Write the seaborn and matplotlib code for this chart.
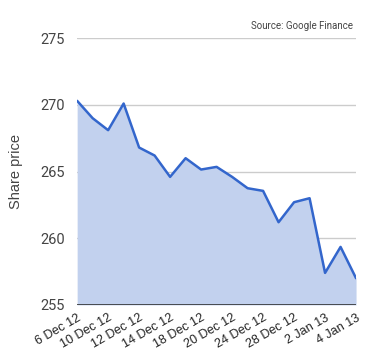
import matplotlib
matplotlib.use("Agg")
import matplotlib.pyplot as plt
import matplotlib.transforms as mtransforms
import seaborn as sns
import pandas as pd

dates = ["6 Dec 12", "7 Dec 12", "10 Dec 12", "11 Dec 12", "12 Dec 12", "13 Dec 12",
         "14 Dec 12", "17 Dec 12", "18 Dec 12", "19 Dec 12", "20 Dec 12", "21 Dec 12",
         "24 Dec 12", "26 Dec 12", "28 Dec 12", "31 Dec 12", "2 Jan 13", "3 Jan 13", "4 Jan 13"]
prices = [270.3, 269.0, 268.1, 270.1, 266.8, 266.2, 264.6, 266.0, 265.15, 265.35,
          264.6, 263.75, 263.55, 261.2, 262.7, 263.0, 257.4, 259.35, 257.0]
tick_labels = ["6 Dec 12", "10 Dec 12", "12 Dec 12", "14 Dec 12", "18 Dec 12",
               "20 Dec 12", "24 Dec 12", "28 Dec 12", "2 Jan 13", "4 Jan 13"]
y_ticks = [255, 260, 265, 270, 275]

df = pd.DataFrame({"date": dates, "price": prices, "pos": range(len(dates))})

sns.set_theme(style="white")
plt.rcParams['font.family'] = ['Roboto', 'DejaVu Sans']

fig = plt.figure(figsize=(3.8, 3.6), dpi=100)
ax = fig.add_axes([0.203, 0.153, 0.734, 0.741])

for t in y_ticks[1:]:
    ax.axhline(t, color="#cccccc", lw=1, zorder=0)

ax.fill_between(df["pos"], df["price"], 255, color="#c2d1ee", lw=0, zorder=1)
sns.lineplot(data=df, x="pos", y="price", ax=ax, color="#3366cc", lw=1.8, zorder=3)
ax.axhline(255, color="#333333", lw=1.2, zorder=4)

ax.set_xlim(0, len(dates) - 1)
ax.set_ylim(255, 275)
ax.set_yticks(y_ticks)
ax.set_yticklabels([str(t) for t in y_ticks], fontsize=10.5, color="#444444")
tick_pos = [dates.index(l) for l in tick_labels]
ax.set_xticks(tick_pos)
ax.set_xticklabels(tick_labels, rotation=30, ha="right", rotation_mode="anchor",
                   fontsize=9, color="#222222", family=["Liberation Sans", "DejaVu Sans"])
offset = mtransforms.ScaledTranslation(4 / 72, 0, fig.dpi_scale_trans)
for lbl in ax.get_xticklabels():
    lbl.set_transform(lbl.get_transform() + offset)
ax.tick_params(axis="x", length=0, pad=5)
ax.tick_params(axis="y", length=0, pad=9)
ax.set_xlabel("")
ax.set_ylabel("Share price", fontsize=10.5, color="#444444",
              family=["Liberation Sans", "DejaVu Sans"])
ax.yaxis.set_label_coords(-0.195, 0.5)
for s in ax.spines.values():
    s.set_visible(False)

fig.text(0.93, 0.915, "Source: Google Finance", ha="right", va="bottom",
         fontsize=7, color="#444444")

fig.savefig("out.png", dpi=100)
